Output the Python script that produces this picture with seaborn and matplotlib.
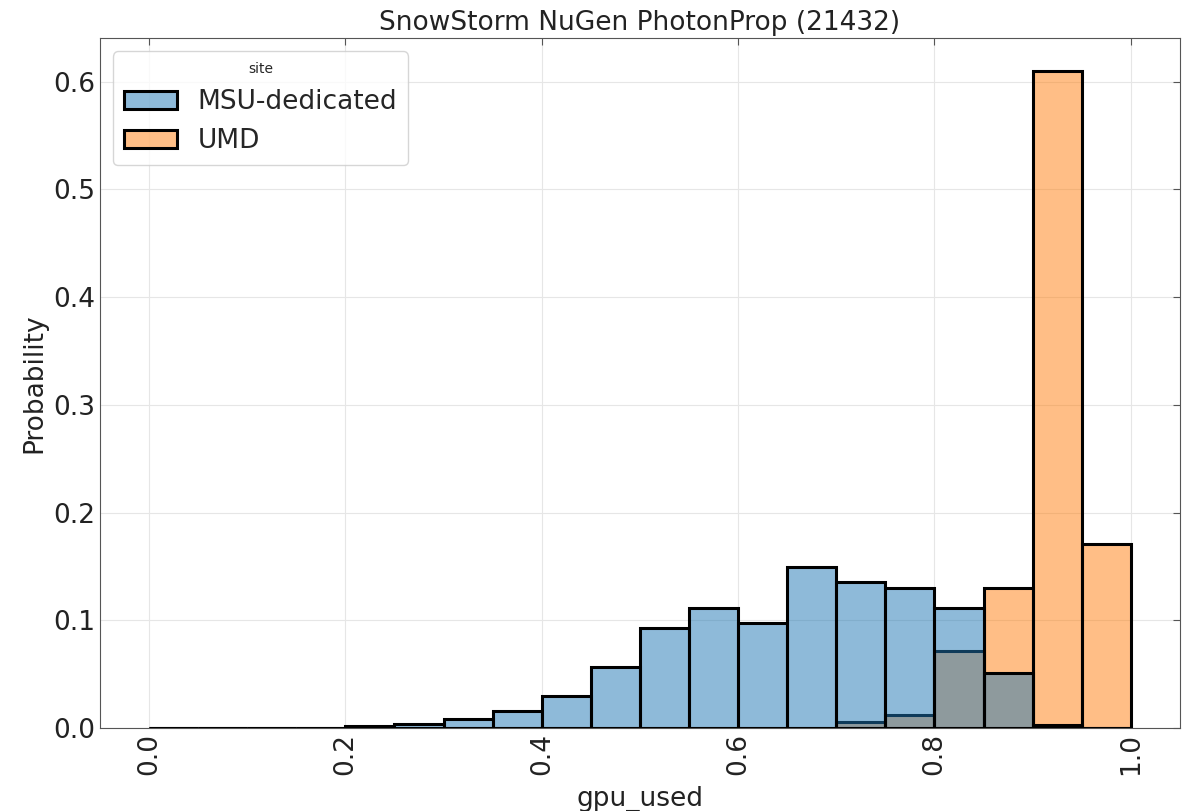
import numpy as np
import pandas as pd
import matplotlib
matplotlib.use("Agg")
import matplotlib.pyplot as plt
import seaborn as sns

# Bin layout (width 0.05 over [0, 1]) and per-site probabilities per bin
bin_width = 0.05
bin_centers = np.arange(20) * bin_width + bin_width / 2

msu_prob = [0.0, 0.0, 0.0, 0.0, 0.002, 0.004, 0.008, 0.016, 0.030, 0.057,
            0.093, 0.112, 0.098, 0.150, 0.136, 0.130, 0.112, 0.051, 0.003, 0.0]
umd_prob = [0.0, 0.0, 0.0, 0.0, 0.0, 0.0, 0.0, 0.0, 0.0, 0.0,
            0.0, 0.0, 0.0, 0.0, 0.006, 0.012, 0.072, 0.130, 0.611, 0.171]

sites = ["MSU-dedicated", "UMD"]

df = pd.DataFrame({
    "gpu_used": np.concatenate([bin_centers, bin_centers]),
    "weight": np.concatenate([msu_prob, umd_prob]),
    "site": [sites[0]] * len(bin_centers) + [sites[1]] * len(bin_centers),
})

sns.set_style("whitegrid")
plt.rcParams.update({
    "font.family": ["DejaVu Sans"],
    "xtick.direction": "in",
    "ytick.direction": "in",
    "xtick.top": True,
    "ytick.right": True,
    "axes.edgecolor": "#555555",
    "grid.color": "#e6e6e6",
})

fig = plt.figure(figsize=(11.93, 8.11), dpi=100)
ax = fig.add_axes([0.0838, 0.1023, 0.9052, 0.8507])

sns.histplot(
    data=df, x="gpu_used", hue="site", weights="weight",
    binwidth=bin_width, binrange=(0.0, 1.0),
    stat="probability", common_norm=False,
    palette=["#1f77b4", "#ff7f0e"], edgecolor="black", linewidth=2.2,
    ax=ax,
)

ax.set_xlim(-0.05, 1.05)
ax.set_title("SnowStorm NuGen PhotonProp (21432)", fontsize=19, color="#222222")
ax.set_xlabel("gpu_used", fontsize=19, color="#222222", labelpad=8)
ax.set_ylabel("Probability", fontsize=19, color="#222222")
ax.tick_params(axis="both", labelsize=19, length=5, color="#555555",
               labelcolor="#222222")
ax.tick_params(axis="x", labelrotation=90)
for s in ax.spines.values():
    s.set_linewidth(0.8)
    s.set_zorder(0.9)

sns.move_legend(ax, "upper left", title="site", fontsize=19,
                title_fontsize=10, frameon=True)

fig.savefig("out.png", dpi=100)
